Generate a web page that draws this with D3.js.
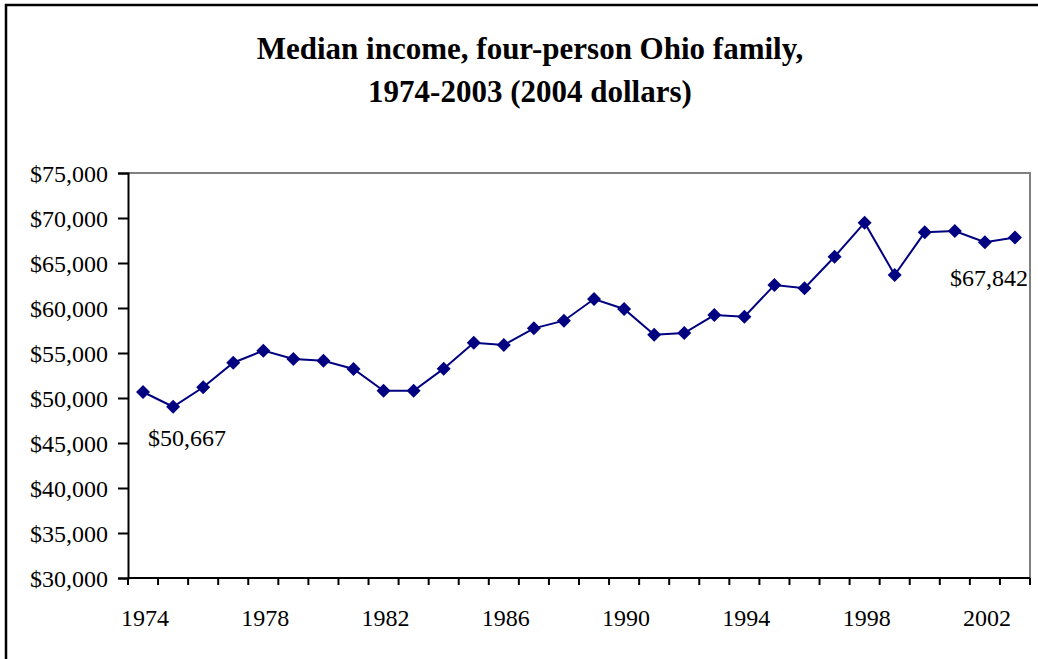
<!DOCTYPE html>
<html>
<head>
<script type="text/javascript" src="https://cdn.jsdelivr.net/npm/d3@7/dist/d3.min.js"></script>
<style>
  body { margin: 0; background: white; }
  text { font-family: "Liberation Serif", "Times New Roman", serif; }
</style>
</head>
<body>
<script>

// data
var years = d3.range(1974, 2004);
var income = [50667, 49030, 51190, 53920, 55260, 54330, 54140, 53220, 50810, 50810,
              53260, 56140, 55890, 57740, 58590, 61000, 59890, 57030, 57220, 59220,
              59030, 62560, 62190, 65700, 69480, 63670, 68410, 68560, 67300, 67842];
var yTicks = [30000, 35000, 40000, 45000, 50000, 55000, 60000, 65000, 70000, 75000];
var xLabelYears = [1974, 1978, 1982, 1986, 1990, 1994, 1998, 2002];
var titleLines = ["Median income, four-person Ohio family,", "1974-2003 (2004 dollars)"];
var callouts = [{"year": 1974, "text": "$50,667"}, {"year": 2003, "text": "$67,842"}];

var width = 1038,
    height = 659,
    plotLeft = 128,
    plotRight = 1030,
    plotTop = 173,
    plotBottom = 578,
    navy = "#000080";

var svg = d3.select("body")
            .append("svg")
            .attr("width", width)
            .attr("height", height);

// outer frame
svg.append("rect")
   .attr("x", 6).attr("y", 5)
   .attr("width", width + 10).attr("height", height + 10)
   .attr("fill", "white")
   .attr("stroke", "black")
   .attr("stroke-width", 2.5);

// title
svg.selectAll("text.title")
   .data(titleLines)
   .enter()
   .append("text")
   .attr("class", "title")
   .attr("x", 530)
   .attr("y", function (d, i) { return 59 + i * 43; })
   .attr("text-anchor", "middle")
   .style("font-size", "31px")
   .style("font-weight", "bold")
   .text(function (d) { return d; });

var xScale = d3.scaleBand()
               .domain(years)
               .range([plotLeft, plotRight]);

var yScale = d3.scaleLinear()
               .domain([30000, 75000])
               .range([plotBottom, plotTop]);

// plot area border (top and right in grey)
svg.append("path")
   .attr("d", "M" + plotLeft + "," + plotTop + "H" + plotRight + "V" + plotBottom)
   .attr("fill", "none")
   .attr("stroke", "#808080")
   .attr("stroke-width", 2);

var fmt = d3.format("$,");

var yAxis = svg.append("g")
               .attr("transform", "translate(" + plotLeft + ",0)")
               .call(d3.axisLeft(yScale).tickValues(yTicks).tickSize(10).tickPadding(10)
                       .tickFormat(function (d) { return fmt(d); }));

yAxis.select(".domain").attr("stroke-width", 2);
yAxis.selectAll(".tick line").attr("stroke-width", 2);
yAxis.selectAll(".tick text")
     .style("font-size", "24px")
     .style("font-family", "Liberation Serif, serif")
     .attr("fill", "black")
     .attr("dy", "0.35em");

// x axis: ticks at category boundaries, labels every 4 years
var xAxis = svg.append("g")
               .attr("transform", "translate(0," + plotBottom + ")");
xAxis.append("line")
     .attr("x1", plotLeft).attr("x2", plotRight)
     .attr("stroke", "black").attr("stroke-width", 2);
xAxis.selectAll("line.tick")
     .data(years.concat([2004]))
     .enter()
     .append("line")
     .attr("class", "tick")
     .attr("x1", function (d) { return d == 2004 ? plotRight : xScale(d); })
     .attr("x2", function (d) { return d == 2004 ? plotRight : xScale(d); })
     .attr("y1", 0).attr("y2", 7)
     .attr("stroke", "black").attr("stroke-width", 2);
xAxis.selectAll("text")
     .data(xLabelYears)
     .enter()
     .append("text")
     .attr("x", function (d) { return xScale(d) + xScale.bandwidth() / 2 + 2; })
     .attr("y", 48)
     .attr("text-anchor", "middle")
     .style("font-size", "24px")
     .text(function (d) { return d; });

var cx = function (d, i) { return xScale(years[i]) + xScale.bandwidth() / 2; };

svg.append("path")
   .datum(income)
   .attr("fill", "none")
   .attr("stroke", navy)
   .attr("stroke-width", 2)
   .attr("d", d3.line()
                .x(cx)
                .y(function (d) { return yScale(d); }));

svg.selectAll("path.marker")
   .data(income)
   .enter()
   .append("path")
   .attr("class", "marker")
   .attr("d", "M0,-7L7,0L0,7L-7,0Z")
   .attr("fill", navy)
   .attr("transform", function (d, i) { return "translate(" + cx(d, i) + "," + yScale(d) + ")"; });

// data labels
svg.selectAll("text.callout")
   .data(callouts)
   .enter()
   .append("text")
   .attr("class", "callout")
   .attr("x", function (d) { return d.year == 1974 ? 148 : 1028; })
   .attr("y", function (d) { return d.year == 1974 ? 446 : 286; })
   .attr("text-anchor", function (d) { return d.year == 1974 ? "start" : "end"; })
   .style("font-size", "24px")
   .text(function (d) { return d.text; });

</script>
</body>
</html>
